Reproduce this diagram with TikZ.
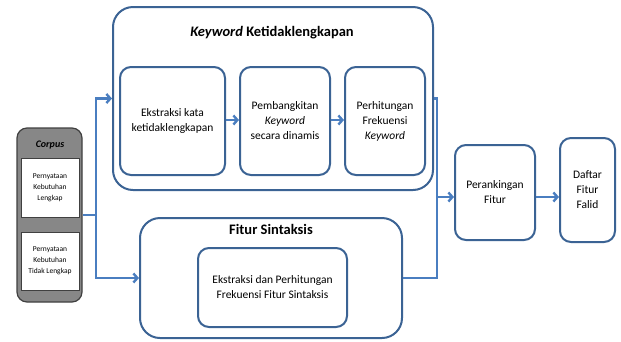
\documentclass[tikz,border=0pt]{standalone}
\usepackage{fontspec}
\setmainfont{Carlito}
\usetikzlibrary{arrows.meta}
\definecolor{conn}{HTML}{4A7EC0}
\definecolor{bord}{HTML}{3B6394}
\definecolor{corpgray}{HTML}{878787}
\begin{document}
\begin{tikzpicture}[x=1pt,y=-1pt,
  bigbox/.style={draw=bord, line width=2pt, rounded corners=20pt, fill=white},
  smallbox/.style={draw=bord, line width=2pt, rounded corners=11pt, fill=white, align=center, font=\fontsize{11.5}{15}\selectfont},
  corpbox/.style={draw=black!75, line width=1.2pt, rounded corners=10pt, fill=corpgray},
  corpin/.style={draw=black!75, line width=0.8pt, fill=white, align=center, font=\fontsize{7.5}{11}\selectfont},
  line/.style={draw=conn, line width=2.6pt},
  arr/.style={line, -{Straight Barb[length=4pt,width=9pt,line width=2.4pt]}},
  ttl/.style={font=\fontsize{14.5}{16}\selectfont\bfseries}
]
\useasboundingbox (0,0) rectangle (621,341);

% Corpus
\node[corpbox, minimum width=65pt, minimum height=174pt] (corpus) at (49.5,215) {};
\node[font=\fontsize{10}{12}\selectfont\bfseries\itshape] (corplbl) at (50,145) {Corpus};
\node[corpin, minimum width=58pt, minimum height=59pt] (c1) at (50,187.5) {Pernyataan\\Kebutuhan\\Lengkap};
\node[corpin, minimum width=58pt, minimum height=58pt] (c2) at (50,261) {Pernyataan\\Kebutuhan\\Tidak Lengkap};

% Keyword box
\node[bigbox, minimum width=320pt, minimum height=183pt] (kw) at (273,98.5) {};
\node[ttl] (kwt) at (272,33) {\textit{Keyword} Ketidaklengkapan};
\node[smallbox, minimum width=105pt, minimum height=108pt] (k1) at (172.5,121) {Ekstraksi kata\\ketidaklengkapan};
\node[smallbox, minimum width=90pt, minimum height=108pt] (k2) at (285,121) {Pembangkitan\\\textit{Keyword}\\secara dinamis};
\node[smallbox, minimum width=80pt, minimum height=108pt] (k3) at (385,121) {Perhitungan\\Frekuensi\\\textit{Keyword}};

% Fitur Sintaksis box
\node[bigbox, minimum width=262pt, minimum height=120pt] (fit) at (271,278) {};
\node[ttl] (fitt) at (271,229) {Fitur Sintaksis};
\node[smallbox, minimum width=149pt, minimum height=79pt] (f1) at (272.5,287.5) {Ekstraksi dan Perhitungan\\Frekuensi Fitur Sintaksis};

% Right boxes
\node[smallbox, minimum width=80pt, minimum height=95pt] (per) at (495,192.5) {Perankingan\\Fitur};
\node[smallbox, minimum width=55pt, minimum height=104pt] (daf) at (587.5,190) {Daftar\\Fitur\\Falid};

% Connectors
\coordinate (j) at (96,215);
\coordinate (m) at (437,197);
\draw[line] (corpus.east) -- (j);
\draw[arr] (j) |- (kw.west);
\draw[arr] (j) |- (fit.west);
\draw[arr] (k1.east |- 0,120) -- (k2.west |- 0,120);
\draw[arr] (k2.east |- 0,120) -- (k3.west |- 0,120);
\draw[line] (kw.east) -| (m);
\draw[line] (fit.east) -| (m);
\draw[arr] (m) -- (m -| per.west);
\draw[arr] (per.east |- m) -- (daf.west |- m);
\end{tikzpicture}
\end{document}
